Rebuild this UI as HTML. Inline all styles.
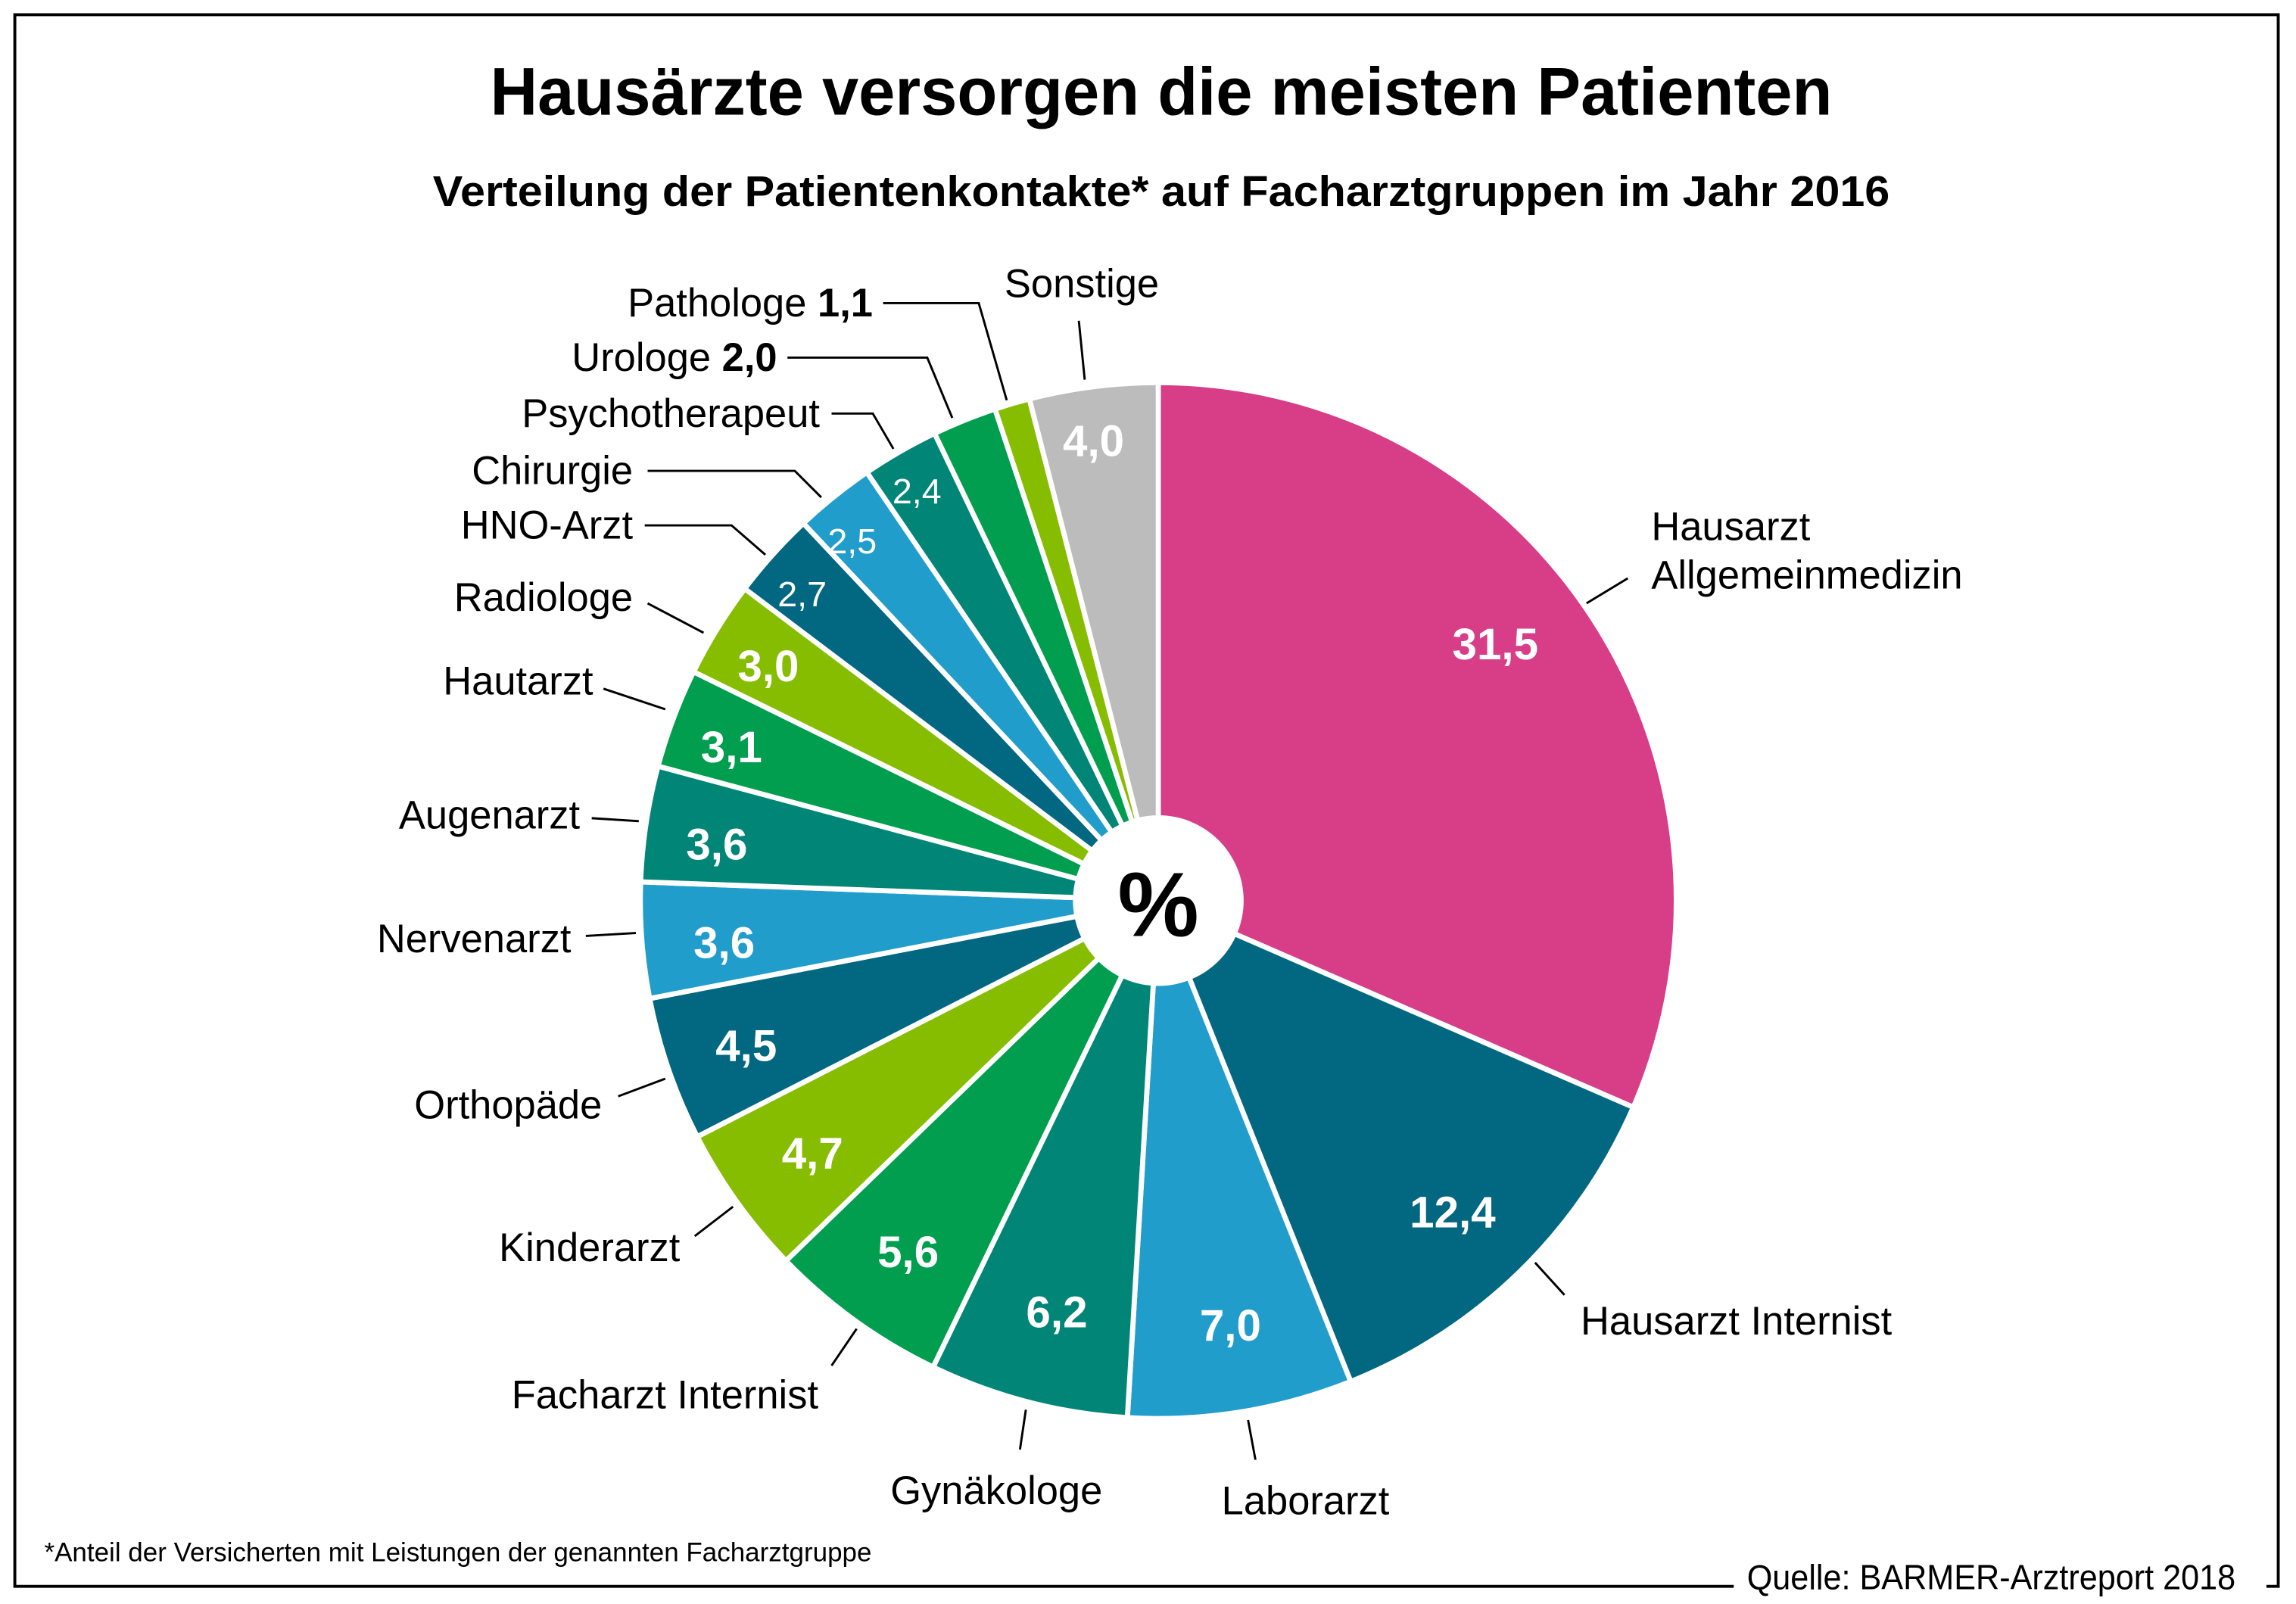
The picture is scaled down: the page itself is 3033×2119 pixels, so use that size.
<!DOCTYPE html>
<html><head><meta charset="utf-8"><style>
html,body{margin:0;padding:0;background:#fff}
svg{display:block}
text{font-family:"Liberation Sans",sans-serif}
</style></head><body>
<svg id="s" width="3033" height="2119" viewBox="0 0 1560 1090" xmlns="http://www.w3.org/2000/svg">
<rect width="1560" height="1090" fill="#fff"/>
<polyline points="1178,1078 10,1078 10,10 1548,10 1548,1078 1540,1078" fill="none" stroke="#000" stroke-width="2"/>
<text x="789" y="78" text-anchor="middle" font-size="46" font-weight="bold" textLength="912" lengthAdjust="spacingAndGlyphs">Hausärzte versorgen die meisten Patienten</text>
<text x="789" y="140" text-anchor="middle" font-size="29" font-weight="bold" textLength="990" lengthAdjust="spacingAndGlyphs">Verteilung der Patientenkontakte* auf Facharztgruppen im Jahr 2016</text>
<g id="pie"></g>
<circle cx="787" cy="612" r="58" fill="#fff"/>
<text x="787" y="636" text-anchor="middle" font-size="62" font-weight="bold">%</text>
<g fill="#fff" font-size="30" text-anchor="middle" font-weight="bold">
<text x="1016" y="448">31,5</text>
<text x="987" y="834">12,4</text>
<text x="836" y="911">7,0</text>
<text x="718" y="902">6,2</text>
<text x="617" y="861">5,6</text>
<text x="552" y="794">4,7</text>
<text x="507" y="721">4,5</text>
<text x="492" y="651">3,6</text>
<text x="487" y="584">3,6</text>
<text x="497" y="518">3,1</text>
<text x="522" y="463">3,0</text>
<text x="743" y="310">4,0</text>
</g>
<g fill="#fff" font-size="24" text-anchor="middle">
<text x="545" y="412">2,7</text>
<text x="579" y="376">2,5</text>
<text x="623" y="342">2,4</text>
</g>
<g font-size="27" fill="#000">
<text x="735" y="202" text-anchor="middle">Sonstige</text>
<text x="593" y="215" text-anchor="end">Pathologe <tspan font-weight="bold">1,1</tspan></text>
<text x="528" y="252" text-anchor="end">Urologe <tspan font-weight="bold">2,0</tspan></text>
<text x="557" y="290" text-anchor="end">Psychotherapeut</text>
<text x="430" y="329" text-anchor="end">Chirurgie</text>
<text x="430" y="366" text-anchor="end">HNO-Arzt</text>
<text x="430" y="415" text-anchor="end">Radiologe</text>
<text x="403" y="472" text-anchor="end">Hautarzt</text>
<text x="394" y="563" text-anchor="end">Augenarzt</text>
<text x="388" y="647" text-anchor="end">Nervenarzt</text>
<text x="409" y="760" text-anchor="end">Orthopäde</text>
<text x="462" y="857" text-anchor="end">Kinderarzt</text>
<text x="556" y="957" text-anchor="end">Facharzt Internist</text>
<text x="677" y="1022" text-anchor="middle">Gynäkologe</text>
<text x="887" y="1029" text-anchor="middle">Laborarzt</text>
<text x="1074" y="907">Hausarzt Internist</text>
<text x="1122" y="367">Hausarzt</text>
<text x="1122" y="400">Allgemeinmedizin</text>
</g>
<g fill="none" stroke="#000" stroke-width="1.5">
<polyline points="733,218 737,258"/>
<polyline points="600,206 665,206 684,272"/>
<polyline points="535,243 630,243 647,284"/>
<polyline points="565,281 593,281 607,305"/>
<polyline points="440,320 540,320 558,338"/>
<polyline points="438,357 497,357 520,377"/>
<polyline points="440,410 478,430"/>
<polyline points="410,468 452,482"/>
<polyline points="402,556 434,558"/>
<polyline points="398,636 432,634"/>
<polyline points="420,745 452,733"/>
<polyline points="472,840 498,820"/>
<polyline points="565,928 582,903"/>
<polyline points="693,985 697,958"/>
<polyline points="853,992 848,965"/>
<polyline points="1063,880 1043,858"/>
<polyline points="1078,410 1106,393"/>
</g>
<text x="30" y="1061" font-size="18">*Anteil der Versicherten mit Leistungen der genannten Facharztgruppe</text>
<text x="1187" y="1080" font-size="24" textLength="332" lengthAdjust="spacingAndGlyphs">Quelle: BARMER-Arztreport 2018</text>
</svg>
<script>
var P="#d83d87",D="#026780",B="#219dcc",T="#008577",G="#009e4e",L="#86bd00",S="#bcbcbc";
var d=[[31.5,P],[12.4,D],[7,B],[6.2,T],[5.6,G],[4.7,L],[4.5,D],[3.6,B],[3.6,T],[3.1,G],[3,L],[2.7,D],[2.5,B],[2.4,T],[2,G],[1.1,L],[4,S]];
var tot=0;d.forEach(function(x){tot+=x[0]});
var cx=787,cy=612,r=352,a=0,g=document.getElementById("pie"),h="";
d.forEach(function(x){var b=a+x[0]/tot*2*Math.PI;
var x1=cx+r*Math.sin(a),y1=cy-r*Math.cos(a),x2=cx+r*Math.sin(b),y2=cy-r*Math.cos(b);
h+='<path d="M'+cx+','+cy+'L'+x1+','+y1+'A'+r+','+r+' 0 '+(b-a>Math.PI?1:0)+' 1 '+x2+','+y2+'Z" fill="'+x[1]+'" stroke="#fff" stroke-width="3.5" stroke-linejoin="round"/>';a=b;});
g.innerHTML=h;
</script>
</body></html>
